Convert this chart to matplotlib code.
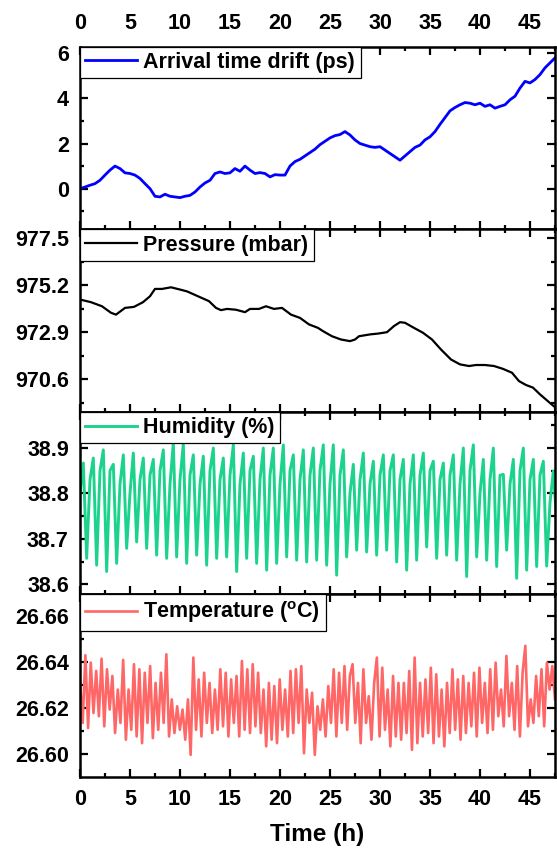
import numpy as np
import matplotlib
matplotlib.use('Agg')
import matplotlib.pyplot as plt
from matplotlib.ticker import FixedLocator, FormatStrFormatter

plt.rcParams['font.family'] = ['Liberation Sans', 'DejaVu Sans']
plt.rcParams['font.weight'] = 'bold'
plt.rcParams['mathtext.fontset'] = 'custom'
plt.rcParams['mathtext.rm'] = 'Liberation Sans:bold'
plt.rcParams['mathtext.it'] = 'Liberation Sans:bold'
plt.rcParams['mathtext.bf'] = 'Liberation Sans:bold'
plt.rcParams['mathtext.default'] = 'rm'

### DATA
# arrival time drift, sampled every 0.5 h
drift_t = np.arange(0, 47.75, 0.5)
drift_ps = [0.0, 0.07, 0.15, 0.22, 0.37, 0.6, 0.82, 1.0, 0.89, 0.7,
            0.67, 0.6, 0.45, 0.22, 0.0, -0.34, -0.37, -0.25, -0.34, -0.37,
            -0.40, -0.34, -0.30, -0.15, 0.07, 0.25, 0.37, 0.67, 0.74, 0.67,
            0.70, 0.89, 0.77, 1.0, 0.82, 0.67, 0.71, 0.67, 0.52, 0.62,
            0.60, 0.60, 1.0, 1.2, 1.3, 1.45, 1.6, 1.75, 1.95, 2.1,
            2.25, 2.35, 2.4, 2.53, 2.38, 2.16, 2.0, 1.93, 1.86, 1.83,
            1.86, 1.71, 1.56, 1.41, 1.26, 1.45, 1.64, 1.83, 1.93, 2.16,
            2.3, 2.53, 2.85, 3.15, 3.45, 3.6, 3.72, 3.82, 3.79, 3.72,
            3.79, 3.65, 3.72, 3.57, 3.65, 3.72, 3.94, 4.1, 4.46, 4.76,
            4.69, 4.84, 5.06, 5.36, 5.58, 5.8]

# pressure
pres_t = [0, 1.1, 2.2, 3.1, 3.6, 4.5, 5.4, 6.3, 7.0, 7.5, 8.2, 9.1, 10.0, 10.7,
          11.8, 12.9, 13.6, 14.1, 14.7, 15.6, 16.5, 17.0, 17.9, 18.6, 19.4, 20.2,
          21.1, 22.0, 22.9, 23.8, 24.3, 25.2, 26.1, 27.0, 27.5, 27.9, 29.0, 29.8,
          30.7, 31.4, 32.0, 32.5, 33.4, 34.3, 35.2, 36.1, 37.1, 38.0, 38.9, 39.6,
          40.5, 41.4, 42.3, 43.2, 43.9, 44.6, 45.3, 46.0, 46.9, 47.5]
pres_mbar = [974.50, 974.37, 974.17, 973.85, 973.76, 974.09, 974.14, 974.37, 974.66,
             975.02, 975.02, 975.10, 974.99, 974.90, 974.66, 974.42, 974.09, 973.98,
             974.04, 974.00, 973.88, 974.04, 974.04, 974.17, 974.04, 974.09, 973.76,
             973.60, 973.28, 973.11, 972.95, 972.70, 972.54, 972.46, 972.54, 972.70,
             972.79, 972.83, 972.90, 973.20, 973.39, 973.36, 973.11, 972.87, 972.54,
             972.05, 971.56, 971.32, 971.24, 971.29, 971.29, 971.24, 971.10, 970.91,
             970.50, 970.31, 970.18, 969.85, 969.47, 969.22]

# humidity: one cycle per hour -> rising shoulder, peak, trough
hum_shoulder = [38.80, 38.83, 38.85, 38.85, 38.82, 38.80, 38.83, 38.84, 38.85, 38.82,
                38.83, 38.84, 38.82, 38.85, 38.83, 38.84, 38.82, 38.85, 38.83, 38.84,
                38.82, 38.85, 38.83, 38.84, 38.85, 38.82, 38.84, 38.80, 38.83, 38.82,
                38.84, 38.85, 38.83, 38.82, 38.84, 38.85, 38.83, 38.84, 38.82, 38.85,
                38.80, 38.83, 38.84, 38.82, 38.85, 38.83, 38.84, 38.78]
hum_peak = [38.867, 38.878, 38.896, 38.864, 38.885, 38.889, 38.878, 38.875, 38.896, 38.911,
            38.909, 38.885, 38.882, 38.900, 38.878, 38.907, 38.889, 38.882, 38.900, 38.900,
            38.907, 38.885, 38.896, 38.900, 38.907, 38.907, 38.896, 38.864, 38.889, 38.871,
            38.885, 38.885, 38.875, 38.885, 38.889, 38.871, 38.867, 38.885, 38.900, 38.907,
            38.875, 38.900, 38.842, 38.875, 38.900, 38.875, 38.871, 38.849]
hum_trough = [38.657, 38.642, 38.628, 38.646, 38.679, 38.693, 38.679, 38.664, 38.657, 38.660,
              38.646, 38.664, 38.642, 38.657, 38.660, 38.628, 38.657, 38.646, 38.631, 38.646,
              38.660, 38.653, 38.649, 38.653, 38.642, 38.620, 38.660, 38.675, 38.671, 38.664,
              38.675, 38.649, 38.631, 38.653, 38.682, 38.657, 38.664, 38.653, 38.617, 38.660,
              38.653, 38.639, 38.675, 38.613, 38.631, 38.639, 38.640, 38.740]

# temperature extrema, read left to right
temp_c = [26.6318, 26.6136, 26.6430, 26.6114, 26.6398, 26.6179, 26.6362, 26.6165, 26.6415, 26.6121,
          26.6369, 26.6194, 26.6340, 26.6092, 26.6281, 26.6136, 26.6410, 26.6063, 26.6281, 26.6106,
          26.6391, 26.6077, 26.6369, 26.6048, 26.6354, 26.6136, 26.6383, 26.6070, 26.6310, 26.6106,
          26.6354, 26.6136, 26.6434, 26.6077, 26.6238, 26.6092, 26.6208, 26.6106, 26.6194, 26.6063,
          26.6238, 26.5997, 26.6420, 26.6106, 26.6325, 26.6077, 26.6354, 26.6136, 26.6310, 26.6092,
          26.6281, 26.6106, 26.6369, 26.6121, 26.6354, 26.6077, 26.6325, 26.6136, 26.6340, 26.6077,
          26.6405, 26.6106, 26.6369, 26.6092, 26.6391, 26.6121, 26.6354, 26.6092, 26.6281, 26.6034,
          26.6310, 26.6063, 26.6296, 26.6048, 26.6325, 26.6106, 26.6281, 26.6077, 26.6362, 26.6092,
          26.6369, 26.6136, 26.6383, 26.6004, 26.6281, 26.6136,
          26.6267, 26.5997, 26.6208, 26.6106, 26.6238, 26.6077, 26.6296, 26.6136, 26.6369, 26.6077,
          26.6354, 26.6136, 26.6383, 26.6106, 26.6340, 26.6391, 26.6136, 26.6310, 26.6048, 26.6369,
          26.6136, 26.6252, 26.6063, 26.6310, 26.6420, 26.6077, 26.6376, 26.6106, 26.6281, 26.6034,
          26.6340, 26.6077, 26.6310, 26.6063, 26.6310, 26.6092, 26.6362, 26.6019, 26.6420, 26.6048,
          26.6310, 26.6077, 26.6325, 26.6092, 26.6376, 26.6048, 26.6347, 26.6077, 26.6281, 26.6034,
          26.6310, 26.6092, 26.6369, 26.6106, 26.6325, 26.6063, 26.6340, 26.6092, 26.6310, 26.6121,
          26.6354, 26.6077, 26.6376, 26.6136, 26.6310, 26.6092, 26.6369, 26.6106, 26.6398, 26.6165,
          26.6281, 26.6121, 26.6427, 26.6165, 26.6310, 26.6106, 26.6383, 26.6077, 26.6354, 26.6471,
          26.6121, 26.6238, 26.6136, 26.6340, 26.6165, 26.6369, 26.6121, 26.6398, 26.6281, 26.6383,
          26.6238]

# build humidity series (3 samples per hourly cycle)
hum = []
for s, p, tr in zip(hum_shoulder, hum_peak, hum_trough):
    hum += [s, p, tr]
hum_t = np.arange(len(hum)) / 3.0
temp_t = np.linspace(0, 47.5, len(temp_c))

### PLOT
fig, axes = plt.subplots(4, 1, figsize=(5.57, 8.48), dpi=100, sharex=True)
fig.subplots_adjust(left=0.1436, right=0.9964, top=0.945, bottom=0.084, hspace=0)

series = [
    (drift_t, drift_ps, '#0000FF', 2.0, 'Arrival time drift (ps)'),
    (pres_t, pres_mbar, 'black', 1.6, 'Pressure (mbar)'),
    (hum_t, hum, '#1CD38D', 2.1, 'Humidity (%)'),
    (temp_t, temp_c, '#FF6666', 1.9, r'Temperature ($^{o}$C)'),
]
ylims = [(-1.8, 6.3), (969.0, 977.95), (38.578, 38.98), (26.5902, 26.6695)]
ymajor = [[0, 2, 4, 6], [970.6, 972.9, 975.2, 977.5], [38.6, 38.7, 38.8, 38.9],
          [26.60, 26.62, 26.64, 26.66]]
yminor = [[-1, 1, 3, 5], [969.45, 971.75, 974.05, 976.35], [38.65, 38.75, 38.85, 38.95],
          [26.61, 26.63, 26.65]]
yfmt = ['%d', '%.1f', '%.1f', '%.2f']

for i, ax in enumerate(axes):
    x, y, c, lw, lab = series[i]
    ax.plot(x, y, color=c, lw=lw, label=lab)
    ax.set_xlim(0, 47.5)
    ax.set_ylim(*ylims[i])
    ax.yaxis.set_major_locator(FixedLocator(ymajor[i]))
    ax.yaxis.set_minor_locator(FixedLocator(yminor[i]))
    ax.yaxis.set_major_formatter(FormatStrFormatter(yfmt[i]))
    ax.xaxis.set_major_locator(FixedLocator([0, 5, 10, 15, 20, 25, 30, 35, 40, 45]))
    ax.xaxis.set_minor_locator(FixedLocator([2.5, 7.5, 12.5, 17.5, 22.5, 27.5, 32.5, 37.5, 42.5, 47.5]))
    for s in ax.spines.values():
        s.set_linewidth(1.8)
    ax.tick_params(which='both', direction='in', top=True, right=True, width=1.6)
    ax.tick_params(which='major', length=5.5)
    ax.tick_params(which='minor', length=2.8)
    ax.tick_params(axis='y', labelsize=15.5, pad=8)
    ax.tick_params(axis='x', labelsize=15.5, pad=9, labelbottom=False)
    leg = ax.legend(loc='upper left', borderaxespad=0, fancybox=False, edgecolor='black',
                    framealpha=1, handlelength=2.4, handletextpad=0.3, borderpad=0.25,
                    fontsize=15.5)
    leg.get_frame().set_linewidth(0.9)

axes[0].tick_params(axis='x', labeltop=True)
axes[3].tick_params(axis='x', labelbottom=True)
axes[3].set_xlabel('Time (h)', fontsize=17.5, fontweight='bold', labelpad=9)

plt.savefig('out.png', dpi=100)
